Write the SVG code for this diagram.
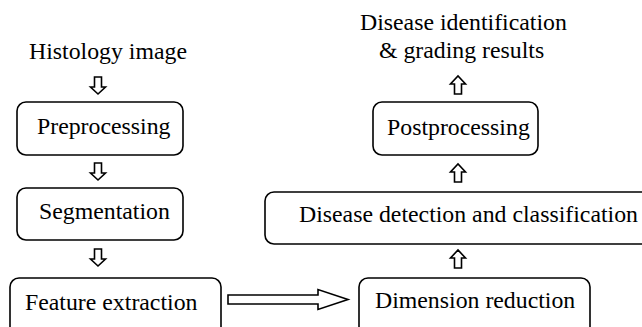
<svg xmlns="http://www.w3.org/2000/svg" width="642" height="327" viewBox="0 0 642 327">
<style>
.t{font-family:'Liberation Serif','Times New Roman',serif;font-size:23.8px;fill:#000}
.box{fill:#fff;stroke:#000;stroke-width:1.6}
.arr{fill:#fff;stroke:#000;stroke-width:1.6;stroke-linejoin:miter}
</style>
<rect width="642" height="327" fill="#fff"/>
<g id="input"><text class="t" x="29" y="59">Histology image</text></g>
<g id="output"><text class="t" x="360" y="30">Disease identification</text><text class="t" x="379" y="58">&amp; grading results</text></g>
<g id="preprocessing"><rect class="box" x="17" y="102" width="166" height="53" rx="9"/><text class="t" x="37" y="134">Preprocessing</text></g>
<g id="segmentation"><rect class="box" x="17" y="188" width="166" height="52" rx="9"/><text class="t" x="39" y="219">Segmentation</text></g>
<g id="feature"><rect class="box" x="10" y="278" width="211" height="62" rx="9"/><text class="t" x="25" y="310">Feature extraction</text></g>
<g id="dimension"><rect class="box" x="359" y="278" width="231" height="62" rx="9"/><text class="t" x="375" y="308">Dimension reduction</text></g>
<g id="detection"><rect class="box" x="265" y="192" width="400" height="52" rx="9"/><text class="t" x="299" y="222">Disease detection and classification</text></g>
<g id="postprocessing"><rect class="box" x="373" y="102" width="165" height="53" rx="9"/><text class="t" x="387" y="135">Postprocessing</text></g>
<g id="connectors">
<path class="arr" d="M94.5,77 H101.5 V87 H105.5 L98,94 L90.5,87 H94.5 Z"/>
<path class="arr" d="M94.5,163 H101.5 V173 H105.5 L98,180 L90.5,173 H94.5 Z"/>
<path class="arr" d="M94.5,249 H101.5 V259 H105.5 L98,266 L90.5,259 H94.5 Z"/>
<path class="arr" d="M228,295 H318 V289.5 L348,299.5 L318,309.5 V304 H228 Z"/>
<path class="arr" d="M454.5,268 H461.5 V258 H465.5 L458,250 L450.5,258 H454.5 Z"/>
<path class="arr" d="M454.5,182 H461.5 V172 H465.5 L458,164 L450.5,172 H454.5 Z"/>
<path class="arr" d="M454.5,94 H461.5 V84 H465.5 L458,76 L450.5,84 H454.5 Z"/>
</g>
</svg>
